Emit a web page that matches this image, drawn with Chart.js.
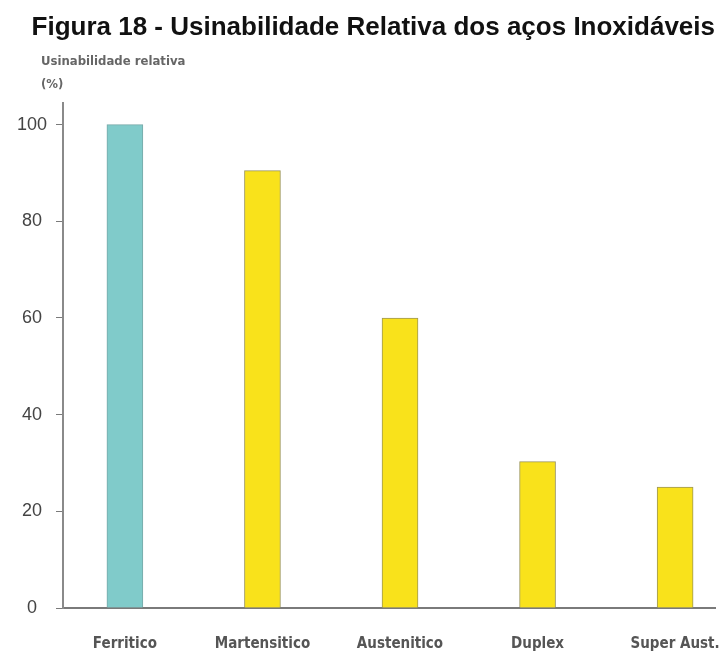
<!DOCTYPE html>
<html>
<head>
<meta charset="utf-8">
<script src="https://cdn.jsdelivr.net/npm/chart.js@4.4.1/dist/chart.umd.min.js"></script>
<style>
  html, body { margin: 0; padding: 0; background: #ffffff; }
  #wrap { width: 723px; height: 655px; position: relative; }
</style>
</head>
<body>
<div id="wrap"><canvas id="chart" width="723" height="655"></canvas></div>
<script>
// Stainless steel families and their relative machinability (%)
const categories = ['Ferritico', 'Martensitico', 'Austenitico', 'Duplex', 'Super Aust.'];
const machinability = [100, 90.5, 60, 30.3, 25];
const barColors = ['#80cbca', '#f9e21b', '#f9e21b', '#f9e21b', '#f9e21b'];
const borderColors = ['#78a9a8', '#9c9658', '#9c9658', '#9c9658', '#9c9658'];
const yTicks = [0, 20, 40, 60, 80, 100];

const chartTitle = 'Figura 18 - Usinabilidade Relativa dos aços Inoxidáveis';
const axisTitle = ['Usinabilidade relativa', '(%)'];

const points = machinability.map((v, i) => ({ x: i, y: v }));

const condensed = '"DejaVu Sans Condensed", "Liberation Sans Narrow", sans-serif';

// Horizontal value-axis caption placed above the top of the y axis
const axisCaption = {
  id: 'axisCaption',
  afterDraw(chart) {
    const { ctx, chartArea } = chart;
    ctx.save();
    ctx.fillStyle = '#666666';
    ctx.font = 'bold 13px ' + condensed;
    ctx.textAlign = 'left';
    ctx.textBaseline = 'middle';
    const x = chartArea.left - 22;
    axisTitle.forEach((line, i) => {
      ctx.fillText(line, x, chartArea.top - 41 + i * 23);
    });
    ctx.restore();
  }
};

new Chart(document.getElementById('chart'), {
  type: 'bar',
  data: {
    datasets: [{
      data: points,
      backgroundColor: barColors,
      borderColor: borderColors,
      borderWidth: 1,
      barThickness: 36
    }]
  },
  plugins: [axisCaption],
  options: {
    responsive: false,
    animation: false,
    layout: { padding: { left: 7, right: 8, top: 0, bottom: 0 } },
    plugins: {
      legend: { display: false },
      tooltip: { enabled: false },
      title: {
        display: true,
        text: chartTitle,
        align: 'end',
        color: '#111111',
        font: { family: '"Liberation Sans", Arial, sans-serif', size: 26, weight: 'bold', lineHeight: 1.15 },
        padding: { top: 13, bottom: 60 }
      }
    },
    scales: {
      x: {
        type: 'linear',
        min: -0.45,
        max: 4.29,
        offset: false,
        afterFit: (s) => { s.height = 47; s.paddingLeft = 0; s.paddingRight = 0; },
        afterBuildTicks: (s) => { s.ticks = categories.map((_, i) => ({ value: i })); },
        grid: { display: false, drawTicks: false },
        border: { display: true, color: '#7a7a7a', width: 2 },
        ticks: {
          autoSkip: false,
          maxRotation: 0,
          padding: 27,
          color: '#555555',
          font: { family: condensed, size: 15, weight: 'bold' },
          callback: (v) => categories[v] ?? ''
        }
      },
      y: {
        min: 0,
        max: 104.5,
        afterFit: (s) => { s.width = 56; s.paddingTop = 0; s.paddingBottom = 0; },
        afterBuildTicks: (s) => { s.ticks = yTicks.map(v => ({ value: v })); },
        grid: { drawOnChartArea: false, drawTicks: true, tickLength: 7, color: '#7a7a7a', tickWidth: 1 },
        border: { display: true, color: '#8a8a8a', width: 2 },
        ticks: {
          padding: 9,
          crossAlign: 'center',
          color: '#444444',
          font: { family: '"Liberation Sans", Arial, sans-serif', size: 18 },
          callback: (v) => String(v)
        }
      }
    }
  }
});
</script>
</body>
</html>
